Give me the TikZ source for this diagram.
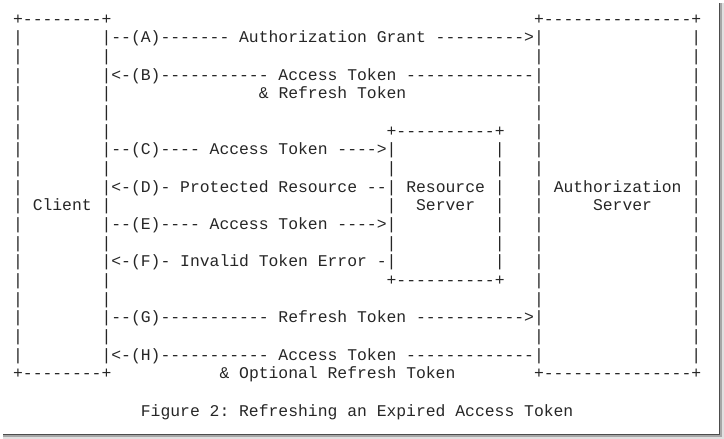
\documentclass[tikz,border=0pt]{standalone}
\usepackage{fontspec}
\newfontfamily\ascfont{Liberation Mono}
\tikzset{
  mono/.style={anchor=base west, inner sep=0pt, outer sep=0pt, text=black!85,
    font=\ascfont\fontsize{16.38}{18}\selectfont\frenchspacing},
}
% #1 name, #2 column, #3 row, #4 text
\newcommand\seg[4]{\node[mono] (#1) at ({13.1+9.83*#2},{24+18.68*#3}) {#4};}
\begin{document}
\begin{tikzpicture}[x=1pt,y=-1pt]
\useasboundingbox (0,0) rectangle (724,439);
\fill[white] (0,0) rectangle (719,434);
% shadow of the screenshot
\fill[black!12] (3,437) rectangle (724,439);
\fill[black!12] (722,3) rectangle (724,439);
\fill[black!35] (3,435) rectangle (722,437);
\fill[black!35] (720,3) rectangle (722,437);
\fill[black!70] (3,434) rectangle (720,435);
\fill[black!70] (719,3) rectangle (720,435);

% Client box
\seg{cTop}{0}{0}{+--------+}
\seg{cBot}{0}{19}{+--------+}
\foreach \r in {1,...,18} {
  \seg{cl\r}{0}{\r}{|}
  \seg{cr\r}{9}{\r}{|}
  \seg{al\r}{53}{\r}{|}
  \seg{ar\r}{69}{\r}{|}
}
\seg{client}{2}{10}{Client}

% Authorization server box
\seg{aTop}{53}{0}{+---------------+}
\seg{aBot}{53}{19}{+---------------+}
\seg{auth1}{55}{9}{Authorization}
\seg{auth2}{59}{10}{Server}

% Resource server box
\seg{rTop}{38}{6}{+----------+}
\seg{rBot}{38}{14}{+----------+}
\foreach \r in {7,...,13} {
  \seg{rl\r}{38}{\r}{|}
  \seg{rr\r}{49}{\r}{|}
}
\seg{res1}{40}{9}{Resource}
\seg{res2}{41}{10}{Server}

% flows
\seg{fA}{10}{1}{--(A)-------~Authorization~Grant~--------->}
\seg{fB}{10}{3}{<-(B)-----------~Access~Token~-------------}
\seg{fB2}{25}{4}{\&~Refresh~Token}
\seg{fC}{10}{7}{--(C)----~Access~Token~---->}
\seg{fD}{10}{9}{<-(D)-~Protected~Resource~--}
\seg{fE}{10}{11}{--(E)----~Access~Token~---->}
\seg{fF}{10}{13}{<-(F)-~Invalid~Token~Error~-}
\seg{fG}{10}{16}{--(G)-----------~Refresh~Token~----------->}
\seg{fH}{10}{18}{<-(H)-----------~Access~Token~-------------}
\seg{fH2}{21}{19}{\&~Optional~Refresh~Token}

% caption
\seg{caption}{13}{21}{Figure~2:~Refreshing~an~Expired~Access~Token}
\end{tikzpicture}
\end{document}
